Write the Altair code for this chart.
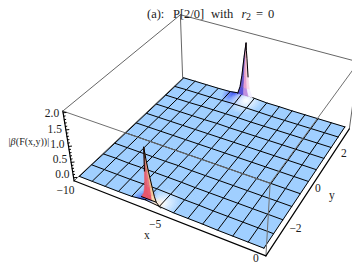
import numpy as np
import pandas as pd
import altair as alt

# ---- values ----
NX, NY = 13, 10
X_MIN, X_MAX = -10.0, 0.0
Y_MIN, Y_MAX = -3.0, 3.0
BOX_X = [-10.2, 0.2]
BOX_Y = [-3.12, 3.12]
BOX_Z = [-0.1, 2.05]
Z_TICKS = [0.0, 0.5, 1.0, 1.5, 2.0]
X_TICKS = [-10, -5, 0]
Y_TICKS = [-2, 0, 2]

# surface height at the mesh nodes, row = y index (front to back), col = x index
Z_ROWS = [
    [0.01, 0.01, 0.01, 0.01, 0.02, 0.08, 0.04, 0.01, 0.01, 0.01, 0.00, 0.00, 0.00, 0.00],
    [0.01, 0.01, 0.01, 0.01, 0.02, 0.03, 0.02, 0.01, 0.01, 0.00, 0.00, 0.00, 0.00, 0.00],
    [0.00, 0.01, 0.00, 0.01, 0.01, 0.01, 0.01, 0.00, 0.00, 0.00, 0.00, 0.00, 0.00, 0.00],
    [0.00, 0.00, 0.00, 0.00, 0.00, 0.01, 0.00, 0.00, 0.00, 0.00, 0.00, 0.00, 0.00, 0.00],
    [0.00, 0.00, 0.00, 0.00, 0.00, 0.00, 0.00, 0.00, 0.00, 0.00, 0.00, 0.00, 0.00, 0.00],
    [0.00, 0.00, 0.00, 0.00, 0.00, 0.00, 0.00, 0.00, 0.00, 0.00, 0.00, 0.00, 0.00, 0.00],
    [0.00, 0.00, 0.00, 0.00, 0.00, 0.00, 0.00, 0.00, 0.00, 0.00, 0.00, 0.00, 0.00, 0.00],
    [0.00, 0.00, 0.00, 0.00, 0.00, 0.01, 0.00, 0.00, 0.00, 0.00, 0.00, 0.00, 0.00, 0.00],
    [0.00, 0.00, 0.00, 0.01, 0.01, 0.01, 0.01, 0.00, 0.00, 0.00, 0.00, 0.00, 0.00, 0.00],
    [0.00, 0.01, 0.01, 0.01, 0.02, 0.03, 0.02, 0.01, 0.00, 0.00, 0.00, 0.00, 0.00, 0.00],
    [0.01, 0.01, 0.01, 0.01, 0.02, 0.08, 0.04, 0.01, 0.01, 0.00, 0.00, 0.00, 0.00, 0.00],
]

# the two peaks: plane y, centre x, heights, and edge offsets in x
PEAK_X = -6.0
FRONT_Y = -3.0
BACK_Y = 3.0
FRONT_Z = [0.14, 0.30, 0.55, 1.00, 1.40, 1.72]
FRONT_L = [-0.36, -0.20, -0.12, -0.07, -0.03, 0.0]
FRONT_R = [0.46, 0.38, 0.30, 0.16, 0.06, 0.0]
BACK_Z = [0.04, 0.30, 0.70, 1.30, 1.55, 1.78]
BACK_L = [-0.44, -0.30, -0.20, -0.10, -0.05, 0.0]
BACK_R = [0.48, 0.28, 0.18, 0.08, 0.03, 0.0]

# ---- styles ----
FLAT = "#a0cfff"
FRONT_COLORS = [
    ["#e8566a", "#e8566a", "#e4606e", "#c85a60", "#804040", "#301818"],
    ["#e8566a", "#ea5e70", "#e87080", "#d87068", "#905038", "#402010"],
    ["#f8d8b0", "#f5c89a", "#f0b888", "#e8a878", "#b08050", "#604020"],
]
BACK_COLORS = [
    ["#5a50d8", "#6a55c8", "#6e58c0", "#604ea8", "#483a80", "#201830"],
    ["#c090e0", "#e8a0d0", "#f0a8c8", "#e098b0", "#906080", "#302028"],
    ["#f4f0ff", "#f8d8e8", "#f8d0dc", "#f0c0c8", "#b09098", "#403038"],
]
# tinted patches round the peaks: mesh position u, v, radius in cells, colour
TINT_U = [4.85, 6.00, 5.75, 4.50, 4.90, 5.60]
TINT_V = [0.05, 0.25, 0.05, 9.92, 9.40, 9.60]
TINT_R = [0.85, 1.10, 0.50, 0.95, 0.80, 1.25]
TINT_C = ["#2a50f0", "#ffffff", "#ffe4c8", "#3040f0", "#80a8ff", "#ffffff"]

# ---- view: box corners as they appear, fitted to one perspective camera ----
CORNERS = [
    ((BOX_X[0], BOX_Y[0], BOX_Z[0]), (74, 181)),
    ((BOX_X[1], BOX_Y[0], BOX_Z[0]), (266, 256)),
    ((BOX_X[1], BOX_Y[1], BOX_Z[0]), (349, 129)),
    ((BOX_X[0], BOX_Y[1], BOX_Z[0]), (183, 78)),
    ((BOX_X[0], BOX_Y[0], BOX_Z[1]), (63, 111)),
    ((BOX_X[1], BOX_Y[0], BOX_Z[1]), (270, 183)),
    ((BOX_X[1], BOX_Y[1], BOX_Z[1]), (359, 62)),
    ((BOX_X[0], BOX_Y[1], BOX_Z[1]), (180, 15)),
]
A = []
for (X_, Y_, Z_), (u_, v_) in CORNERS:
    A.append([X_, Y_, Z_, 1, 0, 0, 0, 0, -u_ * X_, -u_ * Y_, -u_ * Z_, -u_])
    A.append([0, 0, 0, 0, X_, Y_, Z_, 1, -v_ * X_, -v_ * Y_, -v_ * Z_, -v_])
P = np.linalg.svd(np.array(A, dtype=float))[2][-1].reshape(3, 4)


def proj(x, y, z):
    a = P @ np.array([x, y, z, 1.0])
    return float(a[0] / a[2]), float(a[1] / a[2])


def hex2rgb(c):
    return np.array([int(c[i:i + 2], 16) for i in (1, 3, 5)], dtype=float)


def rgb2hex(a):
    return "#%02x%02x%02x" % tuple(int(round(v)) for v in a)


xs = [X_MIN + (X_MAX - X_MIN) * k / NX for k in range(NX + 1)]
ys = [Y_MIN + (Y_MAX - Y_MIN) * j / NY for j in range(NY + 1)]
Z = np.array(Z_ROWS)


def surf(u, v):
    k = min(int(u), NX - 1)
    j = min(int(v), NY - 1)
    a, b = u - k, v - j
    z = (Z[j, k] * (1 - a) * (1 - b) + Z[j, k + 1] * a * (1 - b)
         + Z[j + 1, k + 1] * a * b + Z[j + 1, k] * (1 - a) * b)
    x = X_MIN + (X_MAX - X_MIN) * u / NX
    y = Y_MIN + (Y_MAX - Y_MIN) * v / NY
    return proj(x, y, z)


def tint(u, v):
    col = hex2rgb(FLAT)
    for tu, tv, tr, tc in zip(TINT_U, TINT_V, TINT_R, TINT_C):
        d = np.hypot(u - tu, v - tv)
        w = max(0.0, 1 - d / tr)
        col = col * (1 - w) + hex2rgb(tc) * w
    return rgb2hex(col)


def near_tint(k, j):
    for tu, tv, tr in zip(TINT_U, TINT_V, TINT_R):
        if (k - tr <= tu <= k + 1 + tr) and (j - tr <= tv <= j + 1 + tr):
            return True
    return False


# ---- tables ----
polys = []
pid = 0


def add_poly(rows, pts, color):
    global pid
    for i, (a, b) in enumerate(list(pts) + [pts[0]]):
        rows.append({"poly": pid, "ord": i, "px": a, "py": b, "c": color})
    pid += 1


for j in range(NY):
    for k in range(NX):
        if near_tint(k, j):
            S = 7
            for b in range(S):
                for a in range(S):
                    pts = [surf(k + (a + da) / S, j + (b + db) / S)
                           for da, db in ((0, 0), (1, 0), (1, 1), (0, 1))]
                    add_poly(polys, pts, tint(k + (a + .5) / S, j + (b + .5) / S))
        else:
            pts = [surf(k + da, j + db) for da, db in ((0, 0), (1, 0), (1, 1), (0, 1))]
            add_poly(polys, pts, FLAT)
df_cells = pd.DataFrame(polys)

mesh = []
lid = 0
for k in range(NX + 1):
    for j in range(NY + 1):
        a, b = proj(xs[k], ys[j], Z[j, k])
        mesh.append({"line": lid, "ord": j, "px": a, "py": b})
    lid += 1
for j in range(NY + 1):
    for k in range(NX + 1):
        a, b = proj(xs[k], ys[j], Z[j, k])
        mesh.append({"line": lid, "ord": k, "px": a, "py": b})
    lid += 1
df_mesh = pd.DataFrame(mesh)

spike_polys = []


def add_spike(y0, zs, ls, rs, colors, fracs):
    for lev in range(len(zs) - 1):
        for s in range(3):
            f0, f1 = fracs[s], fracs[s + 1]
            e = lambda zi, f: PEAK_X + ls[zi] + (rs[zi] - ls[zi]) * f
            pts = [proj(e(lev, f0), y0, zs[lev]), proj(e(lev, f1), y0, zs[lev]),
                   proj(e(lev + 1, f1), y0, zs[lev + 1]), proj(e(lev + 1, f0), y0, zs[lev + 1])]
            add_poly(spike_polys, pts, colors[s][lev])


add_spike(BACK_Y, BACK_Z, BACK_L, BACK_R, BACK_COLORS, [0, .4, .75, 1])
add_spike(FRONT_Y, FRONT_Z, FRONT_L, FRONT_R, FRONT_COLORS, [0, .4, .72, 1])
df_spike = pd.DataFrame(spike_polys)

spike_lines = []


def add_line(rows, pts, name):
    for i, (a, b) in enumerate(pts):
        rows.append({"line": name, "ord": i, "px": a, "py": b})


add_line(spike_lines, [proj(PEAK_X + l, BACK_Y, z) for l, z in zip(BACK_L, BACK_Z)], "back-left")
add_line(spike_lines, [proj(PEAK_X + r, BACK_Y, z) for r, z in zip(BACK_R[2:], BACK_Z[2:])], "back-right")
add_line(spike_lines, [proj(PEAK_X + l, FRONT_Y, z) for l, z in zip(FRONT_L[3:], FRONT_Z[3:])], "front-left")
add_line(spike_lines, [proj(PEAK_X + .68, FRONT_Y, 0.0)] + [proj(PEAK_X + r, FRONT_Y, z) for r, z in zip(FRONT_R, FRONT_Z)], "front-right")
add_line(spike_lines, [proj(PEAK_X + FRONT_L[0], FRONT_Y, FRONT_Z[0]), proj(PEAK_X + FRONT_R[0], FRONT_Y, FRONT_Z[0])], "front-low")
df_spike_lines = pd.DataFrame(spike_lines)

x0, x1 = BOX_X
y0, y1 = BOX_Y
z0, z1 = BOX_Z
back_edges = [
    ((x0, y0, z1), (x0, y1, z1)), ((x0, y1, z1), (x1, y1, z1)),
    ((x0, y1, z1), (x0, y1, z0)), ((x1, y1, z1), (x1, y1, z0)),
    ((x0, y1, z0), (x0, y0, z0)),
]
front_edges = [
    ((x0, y0, z1), (x1, y0, z1)), ((x1, y0, z1), (x1, y1, z1)), ((x1, y0, z1), (x1, y0, z0)),
]
axis_edges = [
    ((x0, y0, z0), (x1, y0, z0)), ((x1, y0, z0), (x1, y1, z0)), ((x0, y0, z0), (x0, y0, z1)),
]


def edges_df(edges):
    rows = []
    for n, (a, b) in enumerate(edges):
        add_line(rows, [proj(*a), proj(*b)], n)
    return pd.DataFrame(rows)


tick_rows = []
t = 0
for v in np.arange(0, 2.01, 0.1):
    a, b = proj(x0, y0, float(v))
    major = abs(v * 2 - round(v * 2)) < 1e-6
    ln = 3.0 if major else 1.5
    add_line(tick_rows, [(a, b), (a + ln, b - 0.3)], t)
    t += 1
df_ticks = pd.DataFrame(tick_rows)

labels = []
for v in Z_TICKS:
    a, b = proj(x0, y0, v)
    labels.append({"t": "%.1f" % v, "px": a - 4, "py": b - 3 + (v * 2), "a": "right"})
for v, dy in zip(X_TICKS, [9, 9, 5]):
    a, b = proj(v, y0, z0)
    txt = ("\u2212%d" % -v) if v < 0 else str(v)
    labels.append({"t": txt, "px": a - 3, "py": b + dy, "a": "right"})
for v, dx, dy in zip(Y_TICKS, [18, 6, 7], [0, 3, 6]):
    a, b = proj(x1, v, z0)
    txt = ("\u2212%d" % -v) if v < 0 else str(v)
    labels.append({"t": txt, "px": a + dx, "py": b + dy, "a": "right" if v < 0 else "center"})
df_labels = pd.DataFrame(labels)

# ---- marks ----
sx = alt.Scale(domain=[8, 352], range=[0, 344], nice=False, zero=False)
sy = alt.Scale(domain=[8, 265], range=[0, 257], nice=False, zero=False)
X = alt.X("px:Q", scale=sx, axis=None)
Y = alt.Y("py:Q", scale=sy, axis=None)


def line_layer(df, color, width):
    return alt.Chart(df).mark_line(color=color, strokeWidth=width, strokeCap="round", strokeJoin="round").encode(
        x=X, y=Y, detail="line:N", order="ord:Q")


def fill_layer(df):
    return alt.Chart(df).mark_line(strokeWidth=0.6, strokeJoin="round").encode(
        x=X, y=Y, detail="poly:N", order="ord:Q",
        fill=alt.Fill("c:N", scale=None, legend=None),
        stroke=alt.Stroke("c:N", scale=None, legend=None))


def text_layer(t, x, y, size=12.5, style="normal", align="left"):
    return alt.Chart(pd.DataFrame({"t": [t], "px": [x], "py": [y]})).mark_text(
        font="Liberation Serif", fontSize=size, fontStyle=style, align=align, baseline="alphabetic",
        color="#1c1c1c").encode(x=X, y=Y, text="t:N")


label_layers = []
for al in ("left", "center", "right"):
    sub = df_labels[df_labels.a == al]
    if len(sub):
        label_layers.append(alt.Chart(sub).mark_text(
            font="Liberation Serif", fontSize=11.5, align=al, baseline="middle", color="#1c1c1c"
        ).encode(x=X, y=Y, text="t:N"))

TITLE_Y = 17.5
chart = alt.layer(
    line_layer(edges_df(back_edges), "#666666", 1),
    fill_layer(df_cells),
    line_layer(df_mesh, "#000000", 1),
    fill_layer(df_spike),
    line_layer(df_spike_lines, "#000000", 1),
    line_layer(edges_df(front_edges), "#707070", 1),
    line_layer(edges_df(axis_edges), "#000000", 1.2),
    line_layer(df_ticks, "#000000", 1),
    *label_layers,
    text_layer("(a):", 147, TITLE_Y),
    text_layer("P[2/0]", 173, TITLE_Y),
    text_layer("with", 211, TITLE_Y),
    text_layer("r", 241.5, TITLE_Y, style="italic"),
    text_layer("2", 246, TITLE_Y + 2.5, size=10),
    text_layer("=", 256, TITLE_Y),
    text_layer("0", 268, TITLE_Y),
    text_layer("|", 8.5, 145, size=10),
    text_layer("\u03b2", 10.6, 145, size=10, style="italic"),
    text_layer("(F(x,y))|", 15.8, 145, size=10),
    text_layer("x", 144, 239, size=11.5),
    text_layer("y", 329, 199, size=11.5),
).properties(width=344, height=257, padding=0, background="white",
             autosize=alt.AutoSizeParams(type="none")).configure_view(stroke=None)

chart.save("out.html", embed_options={"renderer": "svg", "actions": False})
